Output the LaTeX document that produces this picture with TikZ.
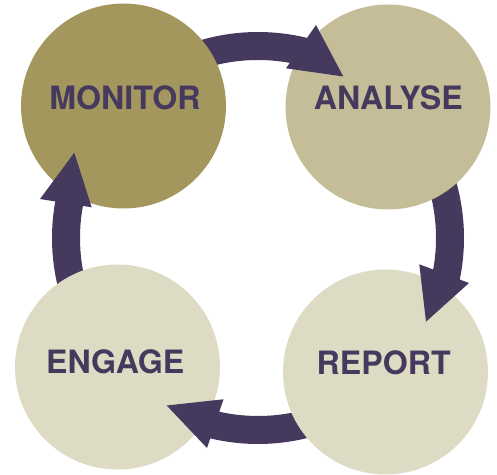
\documentclass[tikz,border=0pt]{standalone}
\usepackage{fontspec}
\setmainfont{TeX Gyre Heros}
\usetikzlibrary{positioning}

\definecolor{cyclepurple}{RGB}{70,57,94}
\definecolor{monitorolive}{RGB}{164,151,94}
\definecolor{analysetan}{RGB}{196,189,151}
\definecolor{palestone}{RGB}{222,219,197}

\begin{document}
\begin{tikzpicture}[
  x=0.02cm, y=0.02cm,
  stage/.style={circle, minimum size=4.1cm, inner sep=0pt},
  stagename/.style={font=\fontsize{18.3}{20}\selectfont\bfseries, text=cyclepurple},
  shaft/.style={draw=cyclepurple, line width=0.56cm},
  head/.style={fill=cyclepurple}
]
\useasboundingbox (0,0) rectangle (497,474);
\coordinate (hub) at (258,236);

% Arrow shafts (tails go under the circles)
\draw[shaft] ([shift={(120:192)}]hub) arc[start angle=120, end angle=72, radius=192];
\draw[shaft] ([shift={(30:192)}]hub) arc[start angle=30, end angle=-14, radius=192];
\draw[shaft] ([shift={(-60:192)}]hub) arc[start angle=-60, end angle=-107, radius=192];
\draw[shaft] ([shift={(-150:192)}]hub) arc[start angle=-150, end angle=-194, radius=192];

% Stages
\node[stage, fill=monitorolive] (monitor) at (123.5,368) {};
\node[stage, fill=analysetan] (analyse) at (388,367) {};
\node[stage, fill=palestone] (engage) at (117.5,107) {};
\node[stage, fill=palestone] (report) at (385.5,102) {};

% Arrow heads
\fill[head] (316,449) -- (286,405.7) -- (343.3,397.5) -- cycle;
\fill[head] (419.3,209.7) -- (469,191) -- (426,152.3) -- cycle;
\fill[head] (223.5,74.7) -- (207,26) -- (166.7,68.5) -- cycle;
\fill[head] (40,275) -- (91.7,266.7) -- (74.3,321.3) -- cycle;

% Labels
\node[stagename] (monitorname) at (125,376) {MONITOR};
\node[stagename] (analysename) at (388.3,376) {ANALYSE};
\node[stagename] (engagename) at (115.3,112) {ENGAGE};
\node[stagename] (reportname) at (383.7,111.5) {REPORT};

\end{tikzpicture}
\end{document}
